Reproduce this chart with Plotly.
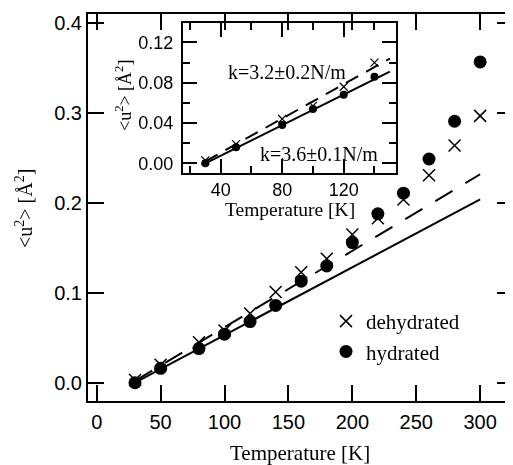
import plotly.graph_objects as go

# ---------------- data ----------------
temperature = [30, 50, 80, 100, 120, 140, 160, 180, 200, 220, 240, 260, 280, 300]
u2_dehydrated = [0.003, 0.020, 0.045, 0.058, 0.077, 0.101, 0.123, 0.138, 0.165, 0.183, 0.204, 0.231, 0.264, 0.297]
u2_hydrated = [0.000, 0.016, 0.038, 0.054, 0.068, 0.086, 0.113, 0.130, 0.156, 0.188, 0.211, 0.249, 0.291, 0.357]

fit_T = [30, 300]
fit_hydrated = [0.000, 0.204]      # k=3.6±0.1 N/m (solid)
fit_dehydrated = [0.002, 0.232]    # k=3.2±0.2 N/m (dashed)

inset_T = [30, 50, 80, 100, 120, 140]
inset_dehydrated = [0.003, 0.019, 0.044, 0.057, 0.076, 0.100]
inset_hydrated = [0.000, 0.016, 0.038, 0.054, 0.068, 0.086]
inset_fit_T = [30, 150]
inset_fit_hydrated = [0.000, 0.091]
inset_fit_dehydrated = [0.002, 0.104]

main_xticks = [0, 50, 100, 150, 200, 250, 300]
main_yticks = [0.0, 0.1, 0.2, 0.3, 0.4]
inset_xticks = [40, 80, 120]
inset_yticks = [0.00, 0.04, 0.08, 0.12]

# ---------------- layout helpers (screen pixel -> paper) ----------------
OFF = 8                      # page body margin
W, H = 513 - OFF, 465 - OFF  # figure size so it ends at window edge
# plot area in screen pixels
SX0, SX1, SY0, SY1 = 88, 513, 14, 401
L, R = SX0 - OFF, (513) - SX1
T, B = SY0 - OFF, (465) - SY1
PW, PH = SX1 - SX0, SY1 - SY0


def px(xp):
    return (xp - SX0) / PW


def py(yp):
    return (SY1 - yp) / PH


SANS = "Liberation Sans"
SERIF = "Liberation Serif"
BLACK = "black"

fig = go.Figure()

# main fits
fig.add_trace(go.Scatter(x=fit_T, y=fit_hydrated, mode="lines",
                         line=dict(color=BLACK, width=2), showlegend=False,
                         xaxis="x", yaxis="y"))
fig.add_trace(go.Scatter(x=fit_T, y=fit_dehydrated, mode="lines",
                         line=dict(color=BLACK, width=2, dash="20px,15px"), showlegend=False,
                         xaxis="x", yaxis="y"))
# main points
fig.add_trace(go.Scatter(x=temperature, y=u2_dehydrated, mode="markers", name="dehydrated",
                         marker=dict(symbol="x-thin", size=12, color=BLACK,
                                     line=dict(width=1.5, color=BLACK)),
                         xaxis="x", yaxis="y"))
fig.add_trace(go.Scatter(x=temperature, y=u2_hydrated, mode="markers", name="hydrated",
                         marker=dict(symbol="circle", size=13, color=BLACK),
                         xaxis="x", yaxis="y"))
# invisible trace to carry right-hand tick axis
fig.add_trace(go.Scatter(x=temperature, y=u2_hydrated, mode="markers", opacity=0,
                         showlegend=False, hoverinfo="skip", xaxis="x", yaxis="y2"))

# inset fits
fig.add_trace(go.Scatter(x=inset_fit_T, y=inset_fit_hydrated, mode="lines",
                         line=dict(color=BLACK, width=2), showlegend=False,
                         xaxis="x3", yaxis="y3"))
fig.add_trace(go.Scatter(x=inset_fit_T, y=inset_fit_dehydrated, mode="lines",
                         line=dict(color=BLACK, width=2, dash="14px,9px"), showlegend=False,
                         xaxis="x3", yaxis="y3"))
# inset points
fig.add_trace(go.Scatter(x=inset_T, y=inset_dehydrated, mode="markers", showlegend=False,
                         marker=dict(symbol="x-thin", size=8, color=BLACK,
                                     line=dict(width=1.2, color=BLACK)),
                         xaxis="x3", yaxis="y3"))
fig.add_trace(go.Scatter(x=inset_T, y=inset_hydrated, mode="markers", showlegend=False,
                         marker=dict(symbol="circle", size=8, color=BLACK),
                         xaxis="x3", yaxis="y3"))

main_axis = dict(showgrid=False, zeroline=False, showline=True, linewidth=2, linecolor=BLACK,
                 ticks="inside", ticklen=16, tickwidth=2, tickcolor=BLACK,
                 tickfont=dict(family=SANS, size=20, color=BLACK))
inset_axis = dict(showgrid=False, zeroline=False, showline=True, linewidth=2, linecolor=BLACK,
                  ticks="inside", ticklen=14, tickwidth=2, tickcolor=BLACK, mirror="ticks",
                  tickfont=dict(family=SANS, size=18, color=BLACK))

inset_x0, inset_x1 = px(183), px(396.3)
inset_y0, inset_y1 = py(172.5), py(23)

fig.update_layout(
    width=W, height=H,
    margin=dict(l=L, r=R, t=T, b=B),
    paper_bgcolor="white", plot_bgcolor="rgba(0,0,0,0)",
    xaxis=dict(main_axis, range=[-6.8, 325.7], tickvals=main_xticks, mirror="ticks",
               domain=[0, 1], anchor="y", ticklabelstandoff=2),
    yaxis=dict(main_axis, range=[-0.0204, 0.4104], tickvals=main_yticks, tickformat=".1f",
               domain=[0, 1], anchor="x", mirror=False, ticklabelstandoff=0),
    yaxis2=dict(main_axis, range=[-0.0204, 0.4104], tickvals=main_yticks, overlaying="y",
                side="right", anchor="x", showline=False, showticklabels=False),
    xaxis3=dict(inset_axis, range=[15.5, 154.2], tickvals=inset_xticks,
                domain=[inset_x0, inset_x1], anchor="y3", ticklabelstandoff=0,
                minor=dict(dtick=20, tick0=0, ticks="inside", ticklen=7, tickwidth=2, tickcolor=BLACK)),
    yaxis3=dict(inset_axis, range=[-0.0091, 0.1393], tickvals=inset_yticks, tickformat=".2f",
                domain=[inset_y0, inset_y1], anchor="x3", ticklabelstandoff=4,
                minor=dict(dtick=0.02, tick0=0, ticks="inside", ticklen=7, tickwidth=2, tickcolor=BLACK)),
    legend=dict(x=px(326), y=py(301), xanchor="left", yanchor="top",
                font=dict(family=SERIF, size=21, color=BLACK),
                bgcolor="rgba(0,0,0,0)", borderwidth=0, tracegroupgap=0),
    showlegend=True,
    hovermode=False,
    annotations=[
        dict(text="&lt;u<sup>2</sup>&gt; [Å<sup>2</sup>]", xref="paper", yref="paper",
             x=px(24), y=py(209), xanchor="center", yanchor="middle", textangle=-90,
             showarrow=False, font=dict(family=SERIF, size=20, color=BLACK)),
        dict(text="Temperature [K]", xref="paper", yref="paper",
             x=px(300), y=py(453), xanchor="center", yanchor="middle",
             showarrow=False, font=dict(family=SERIF, size=21, color=BLACK)),
        dict(text="Temperature [K]", xref="paper", yref="paper",
             x=px(290), y=py(209), xanchor="center", yanchor="middle",
             showarrow=False, font=dict(family=SERIF, size=19.5, color=BLACK)),
        dict(text="&lt;u<sup>2</sup>&gt; [Å<sup>2</sup>]", xref="paper", yref="paper",
             x=px(123), y=py(96), xanchor="center", yanchor="middle", textangle=-90,
             showarrow=False, font=dict(family=SERIF, size=18, color=BLACK)),
        dict(text="k=3.2±0.2N/m", xref="paper", yref="paper",
             x=px(286.5), y=py(72), xanchor="center", yanchor="middle",
             showarrow=False, font=dict(family=SERIF, size=20, color=BLACK)),
        dict(text="k=3.6±0.1N/m", xref="paper", yref="paper",
             x=px(318.5), y=py(154), xanchor="center", yanchor="middle",
             showarrow=False, font=dict(family=SERIF, size=20, color=BLACK)),
    ],
)

fig.write_html("out.html", config={"displayModeBar": False})
